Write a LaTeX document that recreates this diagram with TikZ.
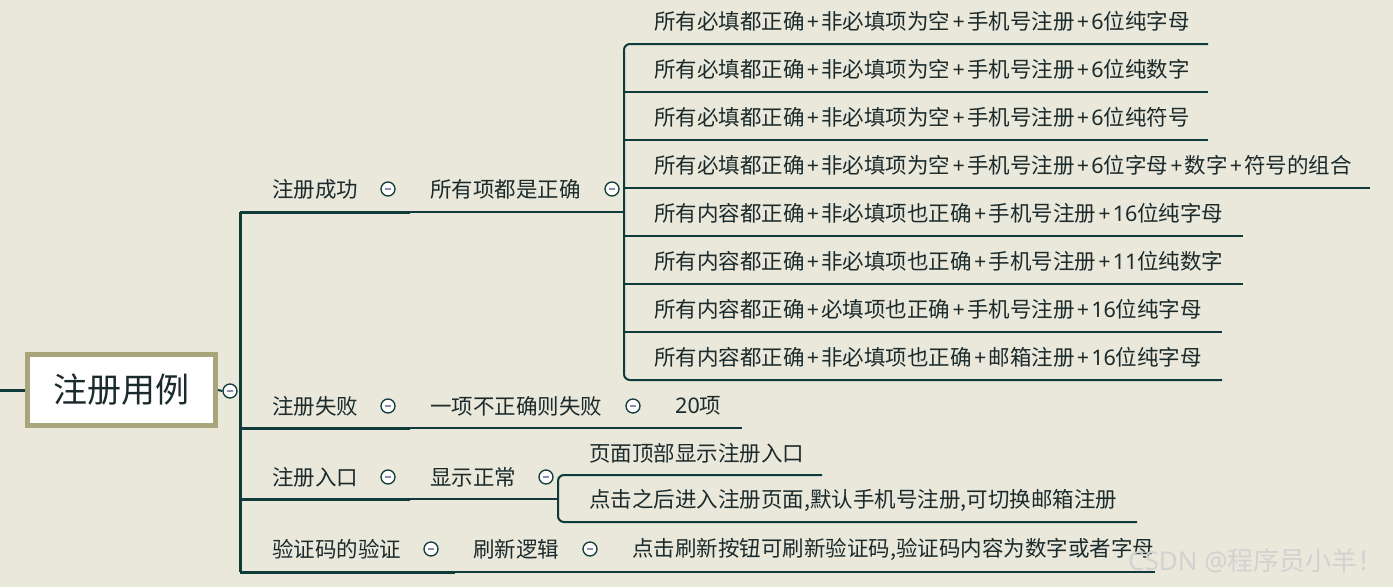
\documentclass[tikz,border=0pt]{standalone}
\usepackage{fontspec}
\setmainfont{Noto Sans CJK SC}
\newfontfamily\lf{Noto Sans}
\newcommand{\pl}{{\hspace{2.2pt}\lf +\hspace{2.2pt}}}
\newcommand{\dg}[1]{{\lf #1}}
\definecolor{bg}{HTML}{EAE7DB}
\definecolor{ln}{HTML}{0F3B3B}
\definecolor{ink}{HTML}{1B2B2B}
\definecolor{rootb}{HTML}{A8A47C}
\definecolor{minusc}{HTML}{8C8CB0}
\definecolor{wm}{HTML}{D2D2D0}
\begin{document}
\begin{tikzpicture}[x=1pt,y=-1pt,
  txt/.style={anchor=west, inner sep=0pt, font=\fontsize{21.5}{21.5}\selectfont, text=ink},
  lineA/.style={draw=ln, line width=3pt},
  lineB/.style={draw=ln, line width=2pt},
  icon/.style={circle, draw=ln, fill=white!92!bg, line width=1.3pt, minimum size=14pt, inner sep=0pt,
    path picture={\draw[minusc, line width=1.4pt] ([xshift=-3.4pt]path picture bounding box.center) -- ([xshift=3.4pt]path picture bounding box.center);}},
  rootbox/.style={draw=rootb, line width=5pt, fill=white, minimum width=188pt, minimum height=71pt, inner sep=0pt, font=\fontsize{34}{34}\selectfont, text=ink}
]
\useasboundingbox[fill=bg] (0,0) rectangle (1393,587);

% root
\node[rootbox] (root) at (121.5,390) {注册用例};
\coordinate (lstub) at (0,390);
\draw[lineA] (lstub) -- (root.west);
\node[icon] (i0) at (230,391) {};
\draw[lineB] (root.east) -- (i0.west);

% trunk
\coordinate (tTop) at (240,212);
\coordinate (tBot) at (240,572);
\draw[lineA] (tTop) -- (tBot);

% level 1 texts
\node[txt] (s1) at (272,189) {注册成功};
\node[txt] (s2) at (272,406) {注册失败};
\node[txt] (s3) at (272,477) {注册入口};
\node[txt] (s4) at (272,549) {验证码的验证};

% level 2 texts
\node[txt] (t1) at (430,189) {所有项都是正确};
\node[txt] (t2) at (430,406) {一项不正确则失败};
\node[txt] (t3) at (430,477) {显示正常};
\node[txt] (t4) at (473,549) {刷新逻辑};

% level 3 texts
\node[txt] (u2) at (675,406) {\dg{20}项};
\node[txt] (v1) at (589,453) {页面顶部显示注册入口};
\node[txt] (v2) at (589,500) {点击之后进入注册页面,默认手机号注册,可切换邮箱注册};
\node[txt] (w1) at (632,549) {点击刷新按钮可刷新验证码,验证码内容为数字或者字母};

% icons
\node[icon] (i1) at (388,189) {};
\node[icon] (i2) at (612,189) {};
\node[icon] (i3) at (388,406) {};
\node[icon] (i4) at (633,406) {};
\node[icon] (i5) at (388,477) {};
\node[icon] (i6) at (546,477) {};
\node[icon] (i7) at (431,549) {};
\node[icon] (i8) at (590,549) {};

% branch underlines
\coordinate (a1) at (240,212); \coordinate (b1) at (410,212); \coordinate (c1) at (624,212);
\draw[lineA] (a1) -- (b1); \draw[lineB] (b1) -- (c1);

\coordinate (a2) at (240,428); \coordinate (b2) at (410,428); \coordinate (c2) at (640,428); \coordinate (d2) at (742,428);
\draw[lineA] (a2) -- (b2); \draw[lineB] (b2) -- (c2) -- (d2);

\coordinate (a3) at (240,499); \coordinate (b3) at (410,499); \coordinate (c3) at (558,499);
\draw[lineA] (a3) -- (b3); \draw[lineB] (b3) -- (c3);

\coordinate (a4) at (240,572); \coordinate (b4) at (455,572); \coordinate (c4) at (615,572); \coordinate (d4) at (1155,572);
\draw[lineA] (a4) -- (b4); \draw[lineB] (b4) -- (c4) -- (d4);

% bracket for 注册入口 children
\coordinate (v1e) at (822,475);
\coordinate (v2e) at (1137,522);
\draw[lineB, rounded corners=6pt] (v1e) -- (558,475) -- (558,522) -- (v2e);

% leaves of 所有项都是正确
\foreach \k/\t/\e in {
  1/{所有必填都正确\pl 非必填项为空\pl 手机号注册\pl\dg{6}位纯字母}/1208,
  2/{所有必填都正确\pl 非必填项为空\pl 手机号注册\pl\dg{6}位纯数字}/1208,
  3/{所有必填都正确\pl 非必填项为空\pl 手机号注册\pl\dg{6}位纯符号}/1208,
  4/{所有必填都正确\pl 非必填项为空\pl 手机号注册\pl\dg{6}位字母\pl 数字\pl 符号的组合}/1370,
  5/{所有内容都正确\pl 非必填项也正确\pl 手机号注册\pl\dg{16}位纯字母}/1243,
  6/{所有内容都正确\pl 非必填项也正确\pl 手机号注册\pl\dg{11}位纯数字}/1243,
  7/{所有内容都正确\pl 必填项也正确\pl 手机号注册\pl\dg{16}位纯字母}/1222,
  8/{所有内容都正确\pl 非必填项也正确\pl 邮箱注册\pl\dg{16}位纯字母}/1222}{
  \node[txt] (l\k) at (654,{21+48*(\k-1)}) {\t};
  \coordinate (le\k) at (\e,{44+48*(\k-1)});
  \coordinate (ls\k) at (624,{44+48*(\k-1)});
}
\draw[lineB, rounded corners=6pt] (le1) -- (ls1) -- (ls8) -- (le8);
\foreach \k in {2,...,7}{ \draw[lineB] (ls\k) -- (le\k); }

% watermark
\node[anchor=west, inner sep=0pt, font=\fontsize{26}{26}\selectfont, text=wm] (wmk) at (1128,561) {{\lf CSDN @}程序员小羊！};
\end{tikzpicture}
\end{document}
